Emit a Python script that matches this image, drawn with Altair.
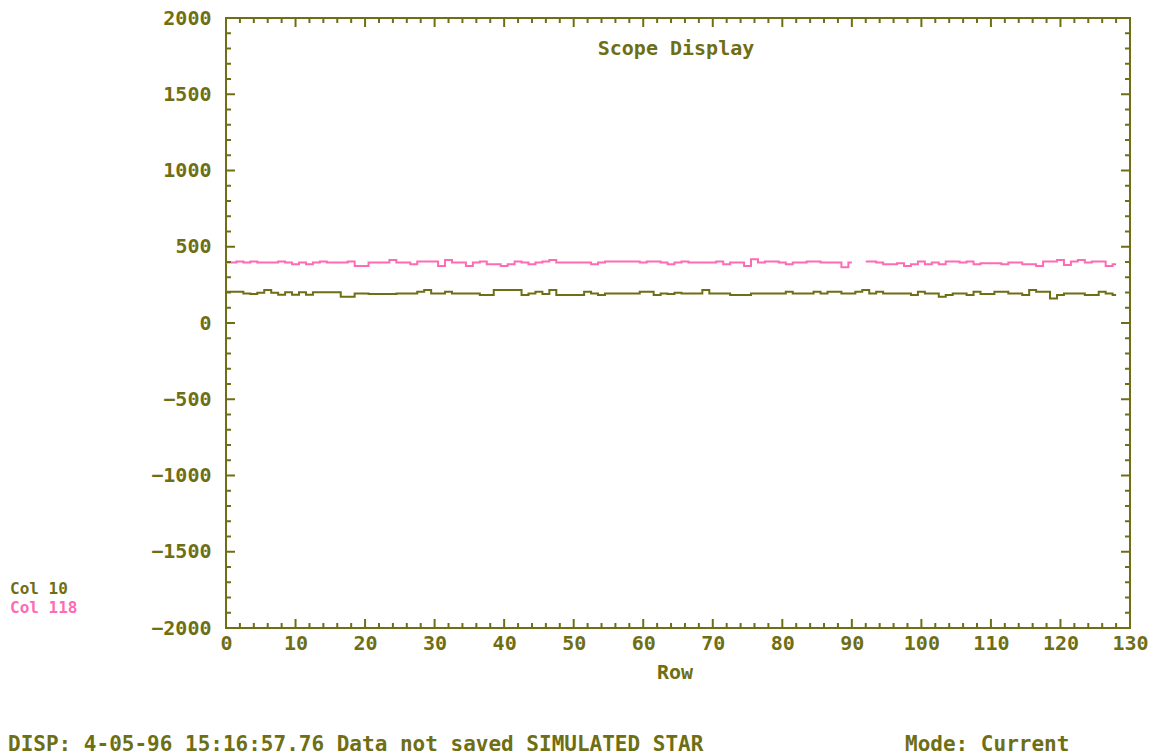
import altair as alt
import pandas as pd

# Scope readout: one value per detector row for two columns
rows = list(range(129))

col10 = [
    205, 205, 205, 194, 190, 199, 216, 199, 185, 201,
    185, 201, 185, 201, 201, 201, 201, 172, 172, 194,
    194, 190, 190, 190, 190, 194, 194, 194, 205, 216,
    194, 194, 205, 194, 194, 194, 194, 183, 183, 216,
    216, 216, 216, 183, 194, 205, 190, 216, 183, 183,
    183, 183, 205, 194, 183, 194, 194, 194, 194, 194,
    205, 205, 183, 194, 190, 199, 194, 194, 194, 216,
    194, 194, 194, 183, 183, 183, 194, 194, 194, 194,
    194, 205, 194, 194, 194, 205, 194, 205, 205, 194,
    194, 205, 216, 194, 205, 194, 194, 194, 194, 183,
    205, 194, 194, 172, 183, 194, 194, 183, 205, 190,
    190, 205, 205, 194, 194, 183, 216, 205, 205, 161,
    183, 194, 194, 194, 183, 183, 205, 194, 183,
]

col118 = [
    396, 396, 404, 396, 404, 396, 396, 396, 404, 396,
    385, 396, 385, 396, 404, 396, 396, 396, 404, 374,
    374, 396, 396, 396, 413, 396, 396, 385, 404, 404,
    404, 374, 413, 396, 396, 374, 396, 404, 385, 385,
    374, 385, 404, 396, 385, 396, 404, 413, 396, 396,
    396, 396, 396, 385, 396, 404, 404, 404, 404, 404,
    396, 404, 404, 396, 385, 396, 404, 396, 396, 396,
    396, 404, 385, 396, 396, 374, 418, 396, 404, 404,
    396, 385, 396, 396, 404, 404, 396, 396, 396, 366,
    396, None, 404, 404, 396, 385, 385, 391, 374, 385,
    404, 385, 396, 385, 404, 404, 396, 404, 385, 391,
    391, 391, 385, 396, 396, 385, 385, 374, 404, 404,
    413, 380, 404, 413, 396, 404, 404, 374, 385,
]

series_names = ["Col 10", "Col 118"]

# Axis tick positions
x_major = list(range(0, 131, 10))
x_minor = [v for v in range(0, 131, 2) if v % 10]
y_major = list(range(-2000, 2001, 500))
y_minor = [v for v in range(-2000, 2001, 100) if v % 500]

OLIVE = "#6e6e14"
PINK = "#ff6ab4"
FONT = "DejaVu Sans Mono"
W, H = 904, 610
MAJOR, MINOR = 9, 5

df = pd.DataFrame({
    "Row": rows + rows,
    "Value": col10 + col118,
    "Series": [series_names[0]] * len(rows) + [series_names[1]] * len(rows),
})

xs = alt.Scale(domain=[0, 130], nice=False, zero=False)
ys = alt.Scale(domain=[-2000, 2000], nice=False, zero=False)

# One shared axis definition per channel so that every layer agrees
x_axis = alt.Axis(
    values=x_major, format="d", ticks=False, tickSize=0, domain=False, grid=False,
    labelFont=FONT, labelFontSize=20, labelFontWeight="bold", labelColor=OLIVE,
    labelPadding=5, labelFlush=False, labelOverlap=False, labelBound=False,
)
y_axis = alt.Axis(
    values=y_major, format="d", ticks=False, tickSize=0, domain=False, grid=False,
    labelFont=FONT, labelFontSize=20, labelFontWeight="bold", labelColor=OLIVE,
    labelPadding=15, labelFlush=False, labelOverlap=False, labelBound=False,
)

lines = alt.Chart(df).mark_line(
    interpolate="step", strokeWidth=2, invalid="break-paths-filter-domains"
).encode(
    x=alt.X("Row:Q", scale=xs, title=None, axis=x_axis),
    y=alt.Y("Value:Q", scale=ys, title=None, axis=y_axis),
    color=alt.Color("Series:N", scale=alt.Scale(domain=series_names, range=[OLIVE, PINK]), legend=None),
)


def x_ticks(vals, length, top):
    base = alt.Chart(pd.DataFrame({"v": vals})).mark_rule(color=OLIVE, strokeWidth=2)
    xenc = alt.X("v:Q", scale=xs, title=None, axis=x_axis)
    if top:
        return base.encode(x=xenc, y=alt.value(0), y2=alt.value(length))
    return base.encode(x=xenc, y=alt.value(H), y2=alt.value(H - length))


def y_ticks(vals, length, right):
    base = alt.Chart(pd.DataFrame({"v": vals})).mark_rule(color=OLIVE, strokeWidth=2)
    yenc = alt.Y("v:Q", scale=ys, title=None, axis=y_axis)
    if right:
        return base.encode(y=yenc, x=alt.value(W), x2=alt.value(W - length))
    return base.encode(y=yenc, x=alt.value(0), x2=alt.value(length))


ticks = [
    x_ticks(x_major, MAJOR, False), x_ticks(x_minor, MINOR, False),
    x_ticks(x_major, MAJOR, True), x_ticks(x_minor, MINOR, True),
    y_ticks(y_major, MAJOR, False), y_ticks(y_minor, MINOR, False),
    y_ticks(y_major, MAJOR, True), y_ticks(y_minor, MINOR, True),
]


def label(text, x, y, color=OLIVE, align="left", size=20):
    return alt.Chart(pd.DataFrame({"t": [text]})).mark_text(
        font=FONT, fontSize=size, fontWeight="bold", color=color,
        align=align, baseline="middle",
    ).encode(text="t:N", x=alt.value(x), y=alt.value(y))


texts = [
    label("Scope Display", 450, 31, align="center"),
    label("Row", 449, 655, align="center"),
    label("Col 10", -216, 571, size=16),
    label("Col 118", -216, 590, color=PINK, size=16),
    label("DISP: 4-05-96 15:16:57.76 Data not saved SIMULATED STAR", -218, 727, size=21),
    label("Mode: Current", 679, 727, size=21),
]

chart = alt.layer(lines, *ticks, *texts).properties(
    width=W, height=H,
    padding={"left": 226, "top": 18, "right": 35, "bottom": 127},
    autosize=alt.AutoSizeParams(type="none"),
    background="white",
).configure_view(stroke=OLIVE, strokeWidth=2)

chart.save("out.html", embed_options={"renderer": "svg", "actions": False})
